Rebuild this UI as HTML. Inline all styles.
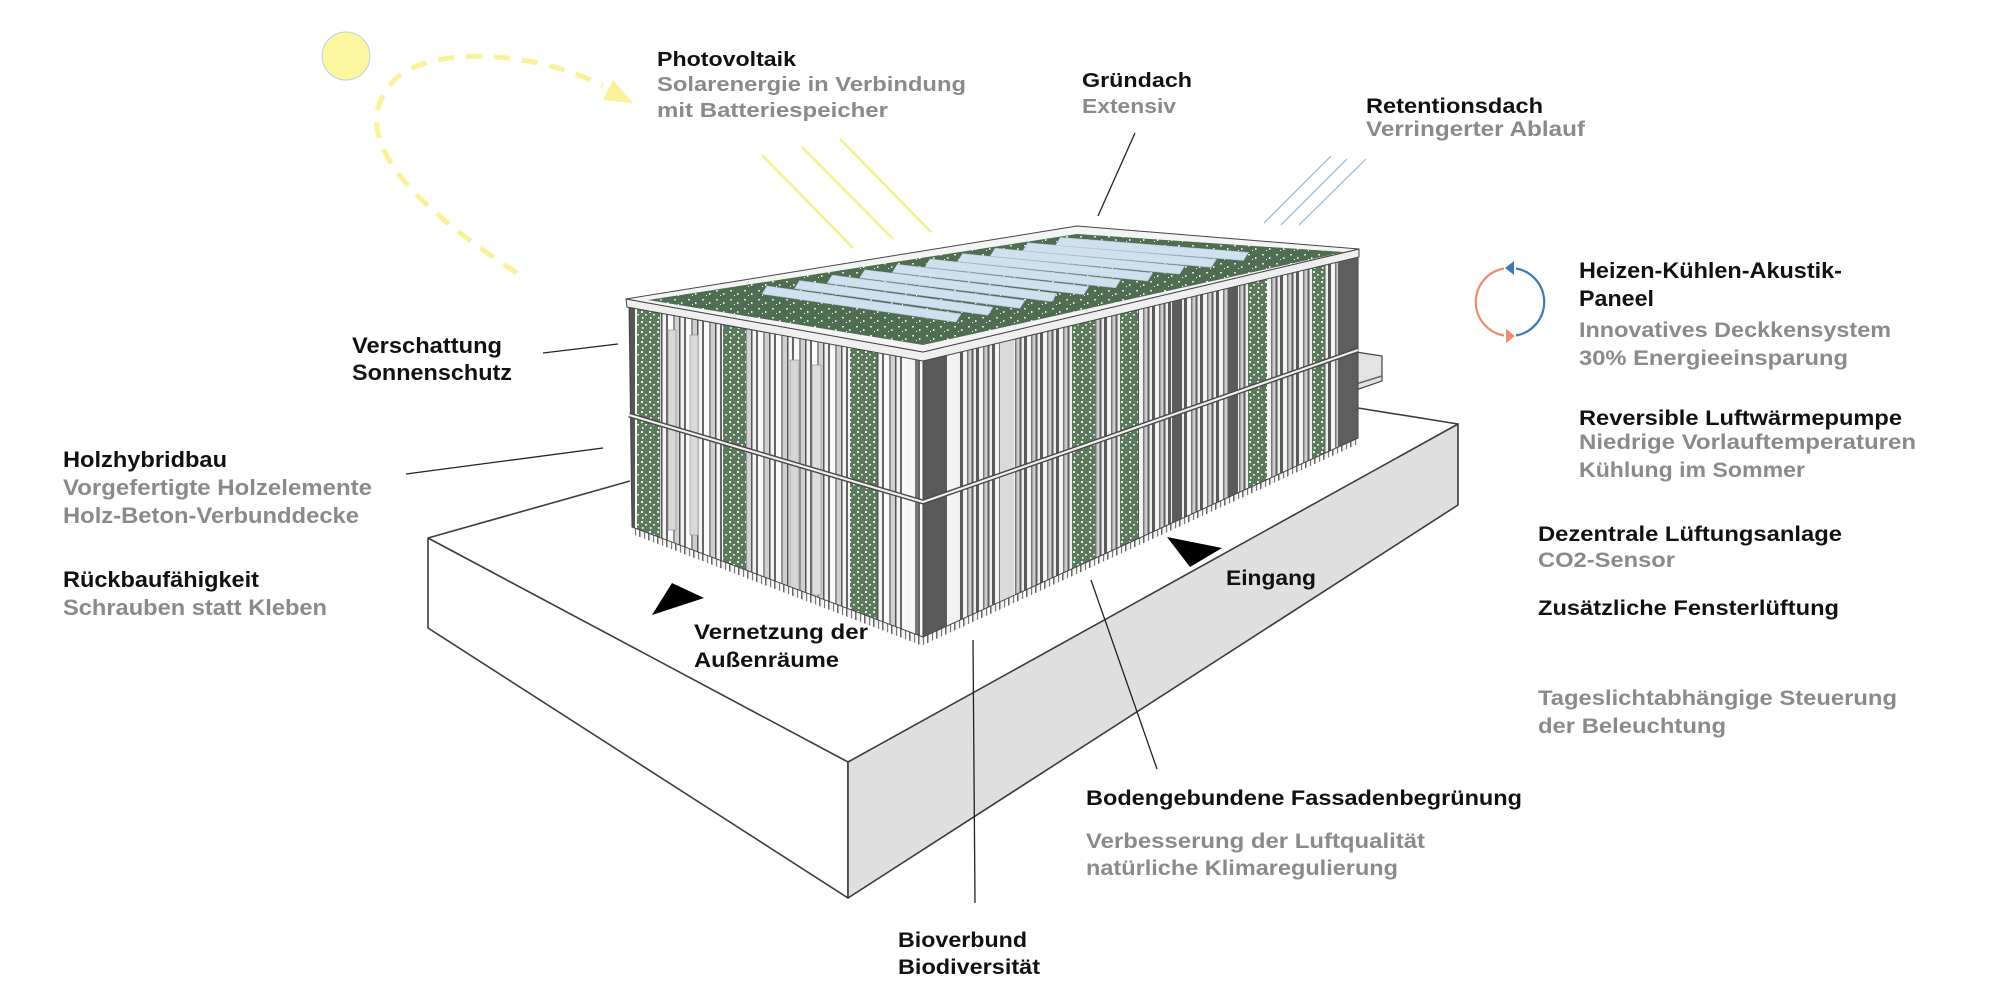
<!DOCTYPE html>
<html><head><meta charset="utf-8">
<style>
html,body{margin:0;padding:0;background:#fff;width:2000px;height:1000px;overflow:hidden}
svg{display:block}
text{font-family:"Liberation Sans",Arial,sans-serif;font-weight:bold}
.k{fill:#111}
.g{fill:#8a8a8a}
</style></head>
<body>
<svg width="2000" height="1000" viewBox="0 0 2000 1000" xmlns="http://www.w3.org/2000/svg">
<defs>
  <pattern id="finL" width="18" height="10" patternUnits="userSpaceOnUse">
    <rect width="18" height="10" fill="#e6e6e6"/>
    <rect x="0" width="2" height="10" fill="#666"/>
    <rect x="2" width="5" height="10" fill="#fafafa"/>
    <rect x="7" width="2" height="10" fill="#959595"/>
    <rect x="9" width="4" height="10" fill="#d0d0d0"/>
    <rect x="13" width="1.5" height="10" fill="#555"/>
    <rect x="14.5" width="3.5" height="10" fill="#f3f3f3"/>
  </pattern>
  <pattern id="finR" width="16" height="10" patternUnits="userSpaceOnUse">
    <rect width="16" height="10" fill="#d8d8d8"/>
    <rect x="0" width="3" height="10" fill="#5a5a5a"/>
    <rect x="3" width="4" height="10" fill="#f4f4f4"/>
    <rect x="7" width="1.5" height="10" fill="#777"/>
    <rect x="8.5" width="3" height="10" fill="#cdcdcd"/>
    <rect x="11.5" width="2" height="10" fill="#5e5e5e"/>
    <rect x="13.5" width="2.5" height="10" fill="#eeeeee"/>
  </pattern>
  <pattern id="fringe" width="9" height="20" patternUnits="userSpaceOnUse">
    <rect x="0" width="1.5" height="20" fill="#666"/>
    <rect x="1.5" width="3.5" height="20" fill="#f2f2f2"/>
    <rect x="5" width="1.2" height="20" fill="#777"/>
  </pattern>
  <pattern id="fg" width="8" height="10" patternUnits="userSpaceOnUse">
    <rect width="8" height="10" fill="#5b7a5c"/>
    <rect x="1" y="1" width="2" height="2" fill="#e9eee9"/>
    <rect x="5" y="4" width="2" height="1.5" fill="#e9eee9"/>
    <rect x="2" y="7" width="1.5" height="2" fill="#f5f5f5"/>
  </pattern>
  <pattern id="rg" width="14" height="9" patternUnits="userSpaceOnUse">
    <rect width="14" height="9" fill="#4f6e51"/>
    <rect x="2" y="2" width="2" height="1.5" fill="#dfe6df"/>
    <rect x="9" y="5" width="1.5" height="2" fill="#dfe6df"/>
    <rect x="6" y="7" width="1" height="1" fill="#fff"/>
  </pattern>
  <clipPath id="cL"><polygon points="629,304 923,358 923,637 632,527"/></clipPath>
  <clipPath id="cR"><polygon points="923,358 1358,252 1358,438 923,637"/></clipPath>
</defs>

<rect width="2000" height="1000" fill="#fff"/>

<!-- sun -->
<circle cx="346" cy="56" r="24" fill="#fdf6a0" stroke="#bcd0e2" stroke-width="1"/>
<path d="M517,273 C420,210 345,140 390,85 C420,45 530,48 603,86" fill="none" stroke="#faf29a" stroke-width="5" stroke-dasharray="16 12"/>
<polygon points="633,103 613,80 603,100" fill="#faf29a"/>

<!-- sun rays -->
<g stroke="#f7f08a" stroke-width="2.5">
  <line x1="762" y1="155" x2="853" y2="248"/>
  <line x1="802" y1="147" x2="893" y2="239"/>
  <line x1="840" y1="139" x2="931" y2="232"/>
</g>
<!-- rain lines -->
<g stroke="#8fb8d8" stroke-width="1.2">
  <line x1="1331" y1="156" x2="1264" y2="223"/>
  <line x1="1347" y1="159" x2="1281" y2="225"/>
  <line x1="1366" y1="159" x2="1299" y2="225"/>
</g>

<!-- platform -->
<polygon points="428,538 848,762 848,898 428,628" fill="#fff" stroke="#3c3c3c" stroke-width="1.6" stroke-linejoin="round"/>
<polygon points="848,762 1458,424 1458,505 848,898" fill="#dfdfdf" stroke="#3c3c3c" stroke-width="1.6" stroke-linejoin="round"/>
<line x1="428" y1="538" x2="630" y2="481" stroke="#3c3c3c" stroke-width="1.6"/>
<line x1="1358" y1="408" x2="1458" y2="424" stroke="#3c3c3c" stroke-width="1.6"/>

<!-- leader lines -->
<g stroke="#222" stroke-width="1.3">
  <line x1="973" y1="640" x2="975" y2="903"/>
  <line x1="1091" y1="580" x2="1157" y2="769"/>
  <line x1="1135" y1="133" x2="1098" y2="216"/>
  <line x1="543" y1="353" x2="618" y2="344"/>
  <line x1="406" y1="474" x2="603" y2="448"/>
</g>

<!-- annex box -->
<polygon points="1356,352 1382,356 1382,381 1356,390" fill="#e3e3e3" stroke="#444" stroke-width="1.2"/>
<line x1="1356" y1="384" x2="1382" y2="376" stroke="#666" stroke-width="1.5"/>

<!-- fin fringe below facades -->
<polygon points="632,527 923,637 923,646 632,534" fill="url(#fringe)"/>
<polygon points="923,637 1358,438 1358,444 923,645" fill="url(#fringe)"/>

<!-- left facade -->
<polygon points="629,304 923,358 923,637 632,527" fill="url(#finL)"/>
<g clip-path="url(#cL)">
  <rect x="629" y="290" width="6" height="360" fill="#555"/>
  <rect x="637" y="290" width="23" height="360" fill="url(#fg)"/>
  <rect x="723" y="290" width="23" height="360" fill="url(#fg)"/>
  <rect x="850" y="290" width="27" height="360" fill="url(#fg)"/>
  <rect x="668" y="330" width="8" height="200" fill="#d8d8d8" stroke="#888" stroke-width="0.6"/>
  <rect x="690" y="335" width="8" height="200" fill="#dadada" stroke="#888" stroke-width="0.6"/>
  <rect x="790" y="360" width="9" height="230" fill="#d6d6d6" stroke="#888" stroke-width="0.6"/>
  <rect x="812" y="365" width="9" height="230" fill="#dcdcdc" stroke="#888" stroke-width="0.6"/>
  <rect x="905" y="350" width="10" height="300" fill="#f6f6f6"/>
  <rect x="915" y="350" width="3" height="300" fill="#777"/>
</g>
<polygon points="629,304 923,358 923,637 632,527" fill="none" stroke="#444" stroke-width="1"/>

<!-- right facade -->
<polygon points="923,358 1358,252 1358,438 923,637" fill="url(#finR)"/>
<g clip-path="url(#cR)">
  <rect x="923" y="240" width="24" height="420" fill="#5a5a5a"/>
  <rect x="950" y="240" width="8" height="420" fill="#f2f2f2"/>
  <rect x="1000" y="240" width="14" height="420" fill="#dadada"/>
  <rect x="1072" y="240" width="23" height="420" fill="url(#fg)"/>
  <rect x="1120" y="240" width="18" height="420" fill="url(#fg)"/>
  <rect x="1172" y="240" width="10" height="420" fill="#5c5c5c"/>
  <rect x="1228" y="240" width="10" height="420" fill="#5c5c5c"/>
  <rect x="1248" y="240" width="19" height="420" fill="url(#fg)"/>
  <rect x="1312" y="240" width="13" height="420" fill="url(#fg)"/>
  <rect x="1338" y="240" width="20" height="420" fill="#5e5e5e"/>
</g>
<polygon points="923,358 1358,252 1358,438 923,637" fill="none" stroke="#444" stroke-width="1"/>

<!-- floor band -->
<polyline points="629,415 923,502 1358,350" fill="none" stroke="#4a4a4a" stroke-width="5"/>
<polyline points="629,415 923,502 1358,350" fill="none" stroke="#f0f0f0" stroke-width="2.2"/>

<!-- parapet -->
<polygon points="626,299 923,352 1359,249 1359,257 923,361 627,307" fill="#efefef" stroke="#444" stroke-width="1"/>
<!-- roof -->
<polygon points="626,299 1077,226 1359,249 923,352" fill="#f4f4f4" stroke="#444" stroke-width="1"/>
<polygon points="648,300 1077,234 1344,252 923,345" fill="url(#rg)"/>
<g fill="#cfe1ef" stroke="#a9c2d3" stroke-width="0.6">
  <polygon points="767,286 961,314 956,322 762,294"/>
  <polygon points="799.6,280.6 992.9,307.2 987.9,315.2 794.6,288.6"/>
  <polygon points="832.2,275.2 1024.9,300.3 1019.9,308.3 827.2,283.2"/>
  <polygon points="864.8,269.8 1056.8,293.5 1051.8,301.5 859.8,277.8"/>
  <polygon points="897.4,264.4 1088.7,286.6 1083.7,294.6 892.4,272.4"/>
  <polygon points="930,259 1120.6,279.8 1115.6,287.8 925,267"/>
  <polygon points="962.6,253.6 1152.6,273 1147.6,281 957.6,261.6"/>
  <polygon points="995.2,248.2 1184.5,266.1 1179.5,274.1 990.2,256.2"/>
  <polygon points="1027.8,242.8 1216.4,259.3 1211.4,267.3 1022.8,250.8"/>
  <polygon points="1060.4,237.4 1248.4,252.4 1243.4,260.4 1055.4,245.4"/>
</g>

<!-- black arrows -->
<polygon points="652,615 672,583 704,598" fill="#000"/>
<polygon points="1167,537 1222,548 1190,567" fill="#000"/>

<!-- cycle icon -->
<path d="M1516,268.5 A34,34 0 0 1 1516,335.5" fill="none" stroke="#3b7bb5" stroke-width="2.2"/>
<path d="M1504,268.5 A34,34 0 0 0 1504,335.5" fill="none" stroke="#f08c6c" stroke-width="2.2"/>
<polygon points="1505,268 1514,261 1514,275" fill="#3b7bb5"/>
<polygon points="1515,336 1506,329 1506,343" fill="#f08c6c"/>

<!-- texts -->
<text class="k" x="657" y="66" font-size="20" textLength="139" lengthAdjust="spacingAndGlyphs">Photovoltaik</text>
<text class="g" x="657" y="91" font-size="20" textLength="309" lengthAdjust="spacingAndGlyphs">Solarenergie in Verbindung</text>
<text class="g" x="657" y="117" font-size="20" textLength="231" lengthAdjust="spacingAndGlyphs">mit Batteriespeicher</text>

<text class="k" x="1082" y="87" font-size="20" textLength="110" lengthAdjust="spacingAndGlyphs">Gründach</text>
<text class="g" x="1082" y="113" font-size="20" textLength="94" lengthAdjust="spacingAndGlyphs">Extensiv</text>

<text class="k" x="1366" y="113" font-size="21" textLength="177" lengthAdjust="spacingAndGlyphs">Retentionsdach</text>
<text class="g" x="1366" y="136" font-size="21" textLength="219" lengthAdjust="spacingAndGlyphs">Verringerter Ablauf</text>

<text class="k" x="352" y="353" font-size="22" textLength="150" lengthAdjust="spacingAndGlyphs">Verschattung</text>
<text class="k" x="352" y="380" font-size="22" textLength="160" lengthAdjust="spacingAndGlyphs">Sonnenschutz</text>

<text class="k" x="63" y="467" font-size="22" textLength="164" lengthAdjust="spacingAndGlyphs">Holzhybridbau</text>
<text class="g" x="63" y="495" font-size="22" textLength="309" lengthAdjust="spacingAndGlyphs">Vorgefertigte Holzelemente</text>
<text class="g" x="63" y="523" font-size="22" textLength="296" lengthAdjust="spacingAndGlyphs">Holz-Beton-Verbunddecke</text>
<text class="k" x="63" y="587" font-size="22" textLength="196" lengthAdjust="spacingAndGlyphs">Rückbaufähigkeit</text>
<text class="g" x="63" y="615" font-size="22" textLength="264" lengthAdjust="spacingAndGlyphs">Schrauben statt Kleben</text>

<text class="k" x="1579" y="278" font-size="22" textLength="263" lengthAdjust="spacingAndGlyphs">Heizen-Kühlen-Akustik-</text>
<text class="k" x="1579" y="306" font-size="22" textLength="75" lengthAdjust="spacingAndGlyphs">Paneel</text>
<text class="g" x="1579" y="337" font-size="21" textLength="312" lengthAdjust="spacingAndGlyphs">Innovatives Deckkensystem</text>
<text class="g" x="1579" y="365" font-size="21" textLength="269" lengthAdjust="spacingAndGlyphs">30% Energieeinsparung</text>
<text class="k" x="1579" y="425" font-size="21" textLength="323" lengthAdjust="spacingAndGlyphs">Reversible Luftwärmepumpe</text>
<text class="g" x="1579" y="449" font-size="21" textLength="337" lengthAdjust="spacingAndGlyphs">Niedrige Vorlauftemperaturen</text>
<text class="g" x="1579" y="477" font-size="21" textLength="226" lengthAdjust="spacingAndGlyphs">Kühlung im Sommer</text>
<text class="k" x="1538" y="541" font-size="21" textLength="304" lengthAdjust="spacingAndGlyphs">Dezentrale Lüftungsanlage</text>
<text class="g" x="1538" y="567" font-size="21" textLength="137" lengthAdjust="spacingAndGlyphs">CO2-Sensor</text>
<text class="k" x="1538" y="615" font-size="21" textLength="301" lengthAdjust="spacingAndGlyphs">Zusätzliche Fensterlüftung</text>
<text class="g" x="1538" y="705" font-size="21" textLength="359" lengthAdjust="spacingAndGlyphs">Tageslichtabhängige Steuerung</text>
<text class="g" x="1538" y="733" font-size="21" textLength="188" lengthAdjust="spacingAndGlyphs">der Beleuchtung</text>

<text class="k" x="694" y="639" font-size="21" textLength="174" lengthAdjust="spacingAndGlyphs">Vernetzung der</text>
<text class="k" x="694" y="667" font-size="21" textLength="145" lengthAdjust="spacingAndGlyphs">Außenräume</text>
<text class="k" x="1226" y="585" font-size="21" textLength="90" lengthAdjust="spacingAndGlyphs">Eingang</text>

<text class="k" x="1086" y="805" font-size="21" textLength="436" lengthAdjust="spacingAndGlyphs">Bodengebundene Fassadenbegrünung</text>
<text class="g" x="1086" y="848" font-size="21" textLength="339" lengthAdjust="spacingAndGlyphs">Verbesserung der Luftqualität</text>
<text class="g" x="1086" y="875" font-size="21" textLength="312" lengthAdjust="spacingAndGlyphs">natürliche Klimaregulierung</text>

<text class="k" x="898" y="947" font-size="21" textLength="129" lengthAdjust="spacingAndGlyphs">Bioverbund</text>
<text class="k" x="898" y="974" font-size="21" textLength="142" lengthAdjust="spacingAndGlyphs">Biodiversität</text>
</svg>
</body></html>
